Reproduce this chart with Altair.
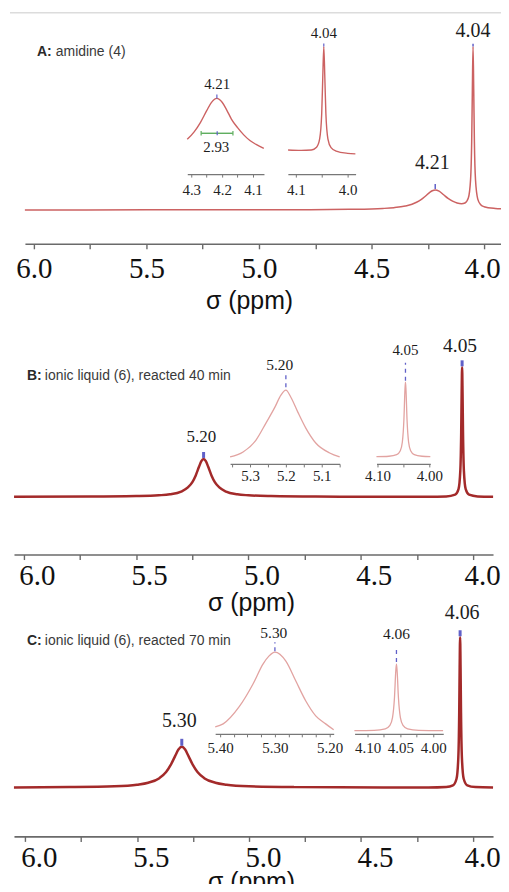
import altair as alt
import pandas as pd

# ---------------- data ----------------
# Panel A: amidine (4) -- main spectrum
A_ppm = [6.04, 5.5, 5.0, 4.8, 4.6, 4.5, 4.45, 4.4, 4.35, 4.32, 4.3, 4.28, 4.26, 4.24, 4.23, 4.217,
         4.2, 4.18, 4.16, 4.14, 4.12, 4.1, 4.085, 4.07, 4.06, 4.055, 4.052, 4.049, 4.046, 4.043,
         4.038, 4.028, 4.015, 4.0, 3.95, 3.907]
A_int = [0.0, 0.1, 0.2, 0.3, 0.6, 1.0, 1.5, 2.3, 3.9, 5.7, 7.7, 10.3, 14.0, 17.9, 19.3, 20.1,
         18.9, 15.3, 11.6, 8.8, 7.0, 6.3, 7.0, 12.0, 30.5, 69.0, 121.0, 164.0, 121.0, 68.5,
         30.0, 10.9, 5.3, 3.3, 1.5, 1.0]
# Panel A inset 1 (zoom on 4.21)
A1_ppm = [4.313, 4.29, 4.27, 4.25, 4.235, 4.217, 4.2, 4.185, 4.17, 4.15, 4.13, 4.11, 4.09, 4.065]
A1_int = [6.3, 8.9, 12.0, 15.9, 18.6, 20.0, 18.7, 16.1, 13.1, 10.2, 7.8, 5.9, 4.6, 3.3]
# Panel A inset 2 (zoom on 4.04)
A2_ppm = [4.115, 4.09, 4.07, 4.06, 4.054, 4.05, 4.048, 4.046, 4.044, 4.042, 4.038, 4.032, 4.022, 4.0, 3.985]
A2_int = [3.9, 3.5, 3.9, 6.5, 14.3, 38.0, 71.0, 100.0, 71.0, 38.0, 14.1, 6.1, 2.9, 0.8, 0.3]

# Panel B: ionic liquid (6), 40 min
B_ppm = [6.044, 5.7, 5.5, 5.4, 5.35, 5.3, 5.27, 5.25, 5.235, 5.22, 5.21, 5.2, 5.19, 5.18, 5.165,
         5.15, 5.13, 5.1, 5.05, 5.0, 4.9, 4.7, 4.5, 4.3, 4.2, 4.12, 4.08, 4.065, 4.057, 4.053,
         4.051, 4.049, 4.047, 4.045, 4.041, 4.033, 4.018, 3.98, 3.911]
B_int = [0.1, 0.2, 0.7, 1.5, 2.5, 5.2, 9.4, 14.8, 21.5, 30.4, 35.8, 38.0, 35.8, 30.4, 21.5,
         14.8, 9.4, 5.2, 2.5, 1.5, 0.7, 0.2, 0.1, 0.1, 0.1, 0.4, 2.1, 7.6, 26.0, 65.0,
         104.0, 130.0, 104.0, 65.0, 26.0, 7.6, 2.1, 0.4, 0.1]
B1_ppm = [5.3556, 5.3194, 5.2833, 5.2556, 5.2306, 5.2139, 5.20, 5.1861, 5.1667, 5.1444, 5.1167, 5.0778, 5.05]
B1_int = [8.2, 15.1, 31.5, 54.8, 76.7, 93.2, 100.0, 90.4, 69.9, 47.9, 27.4, 13.7, 8.2]
B2_ppm = [4.102, 4.078, 4.063, 4.056, 4.052, 4.049, 4.047, 4.046, 4.045, 4.043, 4.040, 4.036, 4.029, 4.014, 3.998]
B2_int = [8.9, 9.4, 11.3, 16.1, 26.9, 54.3, 90.8, 100.0, 90.8, 54.3, 26.9, 16.1, 11.3, 9.4, 8.9]

# Panel C: ionic liquid (6), 70 min
C_ppm = [6.049, 5.8, 5.6, 5.5, 5.45, 5.4, 5.37, 5.35, 5.33, 5.315, 5.3, 5.285, 5.27, 5.25, 5.23,
         5.2, 5.15, 5.1, 5.0, 4.8, 4.6, 4.4, 4.2, 4.12, 4.09, 4.074, 4.066, 4.062, 4.06, 4.058,
         4.056, 4.054, 4.05, 4.042, 4.026, 3.99, 3.911]
C_int = [0.2, 0.5, 1.3, 2.9, 4.9, 9.5, 15.6, 22.5, 31.6, 38.2, 41.0, 38.2, 31.6, 22.5, 15.6,
         9.5, 4.9, 2.9, 1.3, 0.5, 0.3, 0.2, 0.2, 0.7, 2.3, 8.9, 30.2, 75.5, 120.8, 151.0,
         120.8, 75.5, 30.2, 8.9, 2.3, 0.5, 0.1]
C1_ppm = [5.409, 5.3945, 5.3655, 5.34, 5.3218, 5.311, 5.30, 5.28, 5.2618, 5.2436, 5.2255, 5.2073, 5.1927]
C1_int = [8.5, 12.2, 32.9, 61.0, 85.4, 95.1, 100.0, 89.0, 64.6, 40.2, 22.0, 12.2, 4.9]
C2_ppm = [4.12, 4.09, 4.073, 4.066, 4.062, 4.059, 4.057, 4.056, 4.055, 4.053, 4.050, 4.046, 4.039, 4.022, 3.985]
C2_int = [4.5, 5.0, 7.2, 12.2, 23.4, 52.2, 90.4, 100.0, 90.4, 52.2, 23.4, 12.2, 7.2, 5.0, 4.5]

# tick values
MAIN_TICKS = [6.0, 5.75, 5.5, 5.25, 5.0, 4.75, 4.5, 4.25, 4.0]
A1_TICKS = [4.3, 4.25, 4.2, 4.15, 4.1]
A2_TICKS = [4.1, 4.05, 4.0]
B1_TICKS = [5.35, 5.3, 5.25, 5.2, 5.15, 5.1, 5.05]
B2_TICKS = [4.10, 4.05, 4.00]
C1_TICKS = [5.4, 5.375, 5.35, 5.325, 5.3, 5.275, 5.25, 5.225, 5.2]
C2_TICKS = [4.10, 4.075, 4.05, 4.025, 4.00]

# ---------------- styles ----------------
SANS = "Liberation Sans"
SERIF = "Liberation Serif"
BLUE = "#6060c8"
RED_A = "#cc6262"
RED_MAIN = "#a32a2a"
RED_INSET = "#e2a3a1"
W = 497


def main_axis(pad, off, off_last, tx, ty):
    return alt.Axis(values=MAIN_TICKS, orient="bottom", grid=False,
                    labelExpr="round(datum.value*4) % 2 == 0 ? format(datum.value, '.1f') : ''",
                    domainColor="#6a6a6a", domainWidth=1.6, tickColor="#6a6a6a", tickSize=5,
                    tickWidth=1.4, labelFont=SERIF, labelFontSize=29, labelColor="#111",
                    labelPadding=pad,
                    labelOffset={"condition": {"test": "datum.value < 4.01", "value": off_last}, "value": off},
                    labelFlush=False, labelOverlap=False,
                    title="σ (ppm)", titleFont=SANS, titleFontSize=25, titleFontWeight="normal",
                    titleColor="#111", titleX=tx, titleY=ty, titleAlign="center",
                    titleBaseline="middle")


def inset_axis(vals, expr, offset, pad):
    return alt.Axis(values=vals, orient="bottom", grid=False, labelExpr=expr, offset=offset,
                    domainColor="#777", domainWidth=1.2, tickColor="#777", tickSize=3,
                    labelFont=SERIF, labelFontSize=15, labelColor="#222", labelPadding=pad,
                    labelFlush=False, labelOverlap=False, title=None)


def line(ppm, inten, xs, ys, xa, color, width):
    d = pd.DataFrame({"ppm": ppm, "I": inten})
    return alt.Chart(d).mark_line(color=color, strokeWidth=width, interpolate="monotone").encode(
        x=alt.X("ppm:Q", scale=xs, axis=xa), y=alt.Y("I:Q", scale=ys, axis=None))


def markers(ppm, lo, hi, xs, ys, xa, width, dash=None):
    d = pd.DataFrame({"ppm": ppm, "I": lo, "I2": hi})
    kw = dict(color=BLUE, strokeWidth=width)
    if dash:
        kw["strokeDash"] = dash
    return alt.Chart(d).mark_rule(**kw).encode(
        x=alt.X("ppm:Q", scale=xs, axis=xa), y=alt.Y("I:Q", scale=ys, axis=None), y2="I2:Q")


def labels(ppm, inten, text, size, xs, ys, xa):
    d = pd.DataFrame({"ppm": ppm, "I": inten, "t": text, "fs": size})
    return alt.Chart(d).mark_text(font=SERIF, color="#1c1c1c", baseline="middle", align="center").encode(
        x=alt.X("ppm:Q", scale=xs, axis=xa), y=alt.Y("I:Q", scale=ys, axis=None),
        text="t:N", size=alt.Size("fs:Q", scale=None, legend=None))


def title(bold, rest, x, xr, y):
    d1 = pd.DataFrame({"t": [bold]})
    d2 = pd.DataFrame({"t": [rest]})
    t1 = alt.Chart(d1).mark_text(font=SANS, fontSize=14, fontWeight="bold", color="#2a2a2a",
                                 align="left", baseline="middle").encode(
        text="t:N", x=alt.value(x), y=alt.value(y))
    t2 = alt.Chart(d2).mark_text(font=SANS, fontSize=14, color="#3a3a3a",
                                 align="left", baseline="middle").encode(
        text="t:N", x=alt.value(xr), y=alt.value(y))
    return t1 + t2


def sc(domain, rng):
    return alt.Scale(domain=domain, range=rng, nice=False, zero=False)


# ---------------- Panel A ----------------
xsA = sc([6.0398, 3.9071], [15, 497])
ysA = sc([0, 164], [201, 37])
axA = main_axis(6, 0, -2, 240, 57)
gA = alt.layer(
    line(A_ppm, A_int, xsA, ysA, axA, RED_A, 1.5),
    markers([4.217, 4.049], [21, 164], [26, 167], xsA, ysA, axA, 1.5),
    labels([4.23, 4.049], [47, 180], ["4.21", "4.04"], [20, 20], xsA, ysA, axA),
)
xsA1 = sc([4.3129, 4.0645], [178, 255])
ysA1 = sc([0, 20], [149, 89])
axA1 = inset_axis(A1_TICKS, "round(datum.value*20) % 2 == 0 ? format(datum.value, '.1f') : ''", -70, 5)
green = pd.DataFrame({"ppm": [4.268], "p2": [4.165], "I": [8.33]})
caps = pd.DataFrame({"ppm": [4.268, 4.165], "I": [7.6, 7.6], "I2": [9.1, 9.1]})
gA1 = alt.layer(
    line(A1_ppm, A1_int, xsA1, ysA1, axA1, RED_A, 1.4),
    alt.Chart(green).mark_rule(color="#5fae5f", strokeWidth=1.4).encode(
        x=alt.X("ppm:Q", scale=xsA1, axis=axA1), x2="p2:Q", y=alt.Y("I:Q", scale=ysA1, axis=None)),
    alt.Chart(caps).mark_rule(color="#5fae5f", strokeWidth=1.2).encode(
        x=alt.X("ppm:Q", scale=xsA1, axis=axA1), y=alt.Y("I:Q", scale=ysA1, axis=None), y2="I2:Q"),
    markers([4.216, 4.217], [7.7, 20.0], [9.0, 21.3], xsA1, ysA1, axA1, 1.2),
    labels([4.216, 4.219], [24.7, 3.7], ["4.21", "2.93"], [15, 15], xsA1, ysA1, axA1),
)
xsA2 = sc([4.1154, 3.9846], [279, 347])
ysA2 = sc([0, 100], [145, 37])
axA2 = inset_axis(A2_TICKS, "round(datum.value*20) % 2 == 0 ? format(datum.value, '.1f') : ''", -70, 5)
gA2 = alt.layer(
    line(A2_ppm, A2_int, xsA2, ysA2, axA2, RED_A, 1.4),
    markers([4.046], [100], [103], xsA2, ysA2, axA2, 1.2),
    labels([4.046], [113], ["4.04"], [15], xsA2, ysA2, axA2),
)
# thin separator line across the top; it runs past the right edge of the page
sep = alt.Chart(pd.DataFrame({"a": [0]})).mark_rule(color="#dcdcdc", strokeWidth=1.5).encode(
    x=alt.value(0), x2=alt.value(510), y=alt.value(3))
panelA = alt.layer(gA, gA1, gA2, title("A:", "amidine (4)", 27, 46, 42), sep).resolve_scale(
    x="independent", y="independent").properties(width=W, height=235)

# ---------------- Panel B ----------------
xsB = sc([6.0443, 3.9113], [4, 485])
ysB = sc([0, 130], [254, 124])
axB = main_axis(2, 13, 9, 242, 48)
gB = alt.layer(
    line(B_ppm, B_int, xsB, ysB, axB, RED_MAIN, 2.5),
    markers([5.20, 4.049], [39, 131], [45, 137], xsB, ysB, axB, 3),
    labels([5.21, 4.058], [60, 151], ["5.20", "4.05"], [17, 19.5], xsB, ysB, axB),
)
xsB1 = sc([5.3556, 5.05], [221, 331])
ysB1 = sc([0, 100], [220, 147])
axB1 = inset_axis(B1_TICKS, "round(datum.value*20) % 2 == 0 ? format(datum.value, '.1f') : ''", -91, 2)
gB1 = alt.layer(
    line(B1_ppm, B1_int, xsB1, ysB1, axB1, RED_INSET, 1.3),
    markers([5.20], [104], [123], xsB1, ysB1, axB1, 1.3, [4, 4]),
    labels([5.217], [134], ["5.20"], [15.5], xsB1, ysB1, axB1),
)
xsB2 = sc([4.1019, 3.9981], [368, 422])
ysB2 = sc([0, 100], [221, 139])
axB2 = inset_axis(B2_TICKS, "round(datum.value*20) % 2 == 0 ? format(datum.value, '.2f') : ''", -91, 2)
gB2 = alt.layer(
    line(B2_ppm, B2_int, xsB2, ysB2, axB2, RED_INSET, 1.3),
    markers([4.046], [102], [124], xsB2, ysB2, axB2, 1.3, [4, 4]),
    labels([4.046], [139], ["4.05"], [15], xsB2, ysB2, axB2),
)
panelB = alt.layer(gB, gB1, gB2, title("B:", "ionic liquid (6), reacted 40 min", 17, 35, 133)).resolve_scale(
    x="independent", y="independent").properties(width=W, height=312)

# ---------------- Panel C ----------------
xsC = sc([6.0489, 3.9111], [4, 485])
ysC = sc([0, 151], [234, 83])
axC = main_axis(2, 14, 9, 242, 45)
gC = alt.layer(
    line(C_ppm, C_int, xsC, ysC, axC, RED_MAIN, 2.5),
    markers([5.30, 4.058], [42, 152], [49, 158], xsC, ysC, axC, 3),
    labels([5.311, 4.049], [67, 175], ["5.30", "4.06"], [20, 20], xsC, ysC, axC),
)
xsC1 = sc([5.4091, 5.1927], [206, 325])
ysC1 = sc([0, 100], [180, 98])
axC1 = inset_axis(C1_TICKS, "round(datum.value*40) % 4 == 0 ? format(datum.value, '.2f') : ''", -103, 4)
gC1 = alt.layer(
    line(C1_ppm, C1_int, xsC1, ysC1, axC1, RED_INSET, 1.3),
    markers([5.30], [101], [112], xsC1, ysC1, axC1, 1.3, [4, 4]),
    labels([5.302], [124], ["5.30"], [15.5], xsC1, ysC1, axC1),
)
xsC2 = sc([4.1197, 3.9848], [346, 435])
ysC2 = sc([0, 100], [180, 110])
axC2 = inset_axis(C2_TICKS, "round(datum.value*40) % 2 == 0 ? format(datum.value, '.2f') : ''", -103, 4)
gC2 = alt.layer(
    line(C2_ppm, C2_int, xsC2, ysC2, axC2, RED_INSET, 1.3),
    markers([4.056], [103], [124], xsC2, ysC2, axC2, 1.3, [4, 4]),
    labels([4.056], [143], ["4.06"], [15.5], xsC2, ysC2, axC2),
)
panelC = alt.layer(gC, gC1, gC2, title("C:", "ionic liquid (6), reacted 70 min", 17, 35, 87)).resolve_scale(
    x="independent", y="independent").properties(width=W, height=283)

# negative right/bottom padding crops the drawing to the window, as the reference is cropped
chart = alt.vconcat(
    panelA, panelB, panelC, spacing=0, bounds="flush",
    padding={"top": 0, "left": 0, "right": -18, "bottom": -12},
).configure_view(stroke=None)

chart.save("out.html", embed_options={"renderer": "svg", "actions": False})
